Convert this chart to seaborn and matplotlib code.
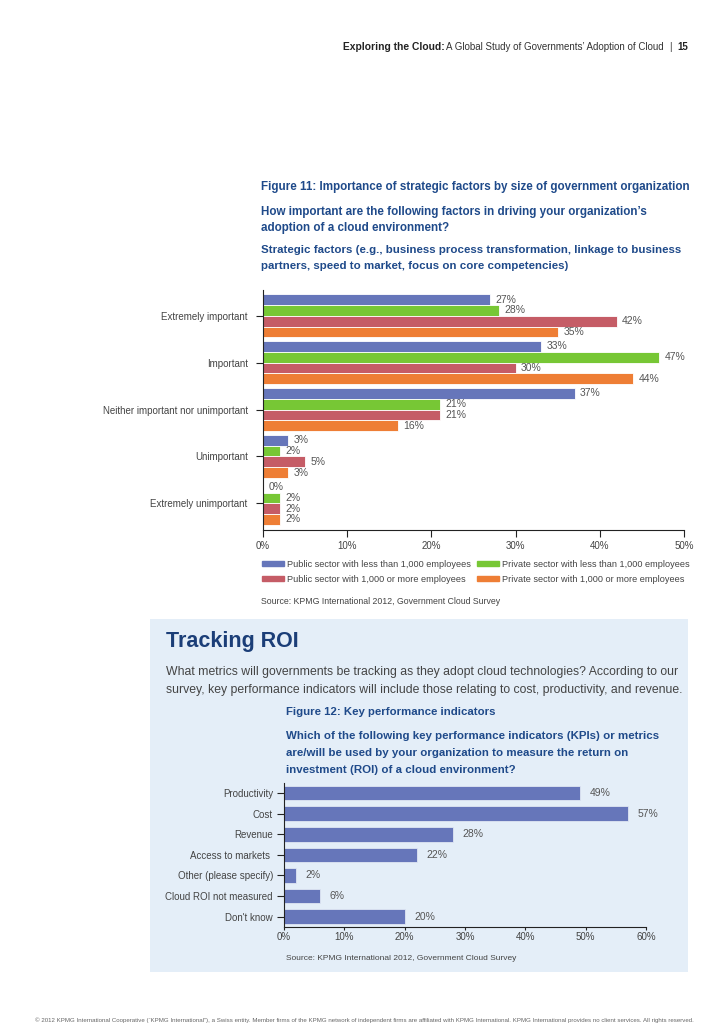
import matplotlib
matplotlib.use("Agg")
import matplotlib.pyplot as plt
from matplotlib.patches import Rectangle, Patch
import pandas as pd
import seaborn as sns

# ---- data ----
importance_levels = ["Extremely important", "Important", "Neither important nor unimportant",
                     "Unimportant", "Extremely unimportant"]
public_small = [27, 33, 37, 3, 0]
private_small = [28, 47, 21, 2, 2]
public_large = [42, 30, 21, 5, 2]
private_large = [35, 44, 16, 3, 2]
series_names = ["Public sector with less than 1,000 employees",
                "Private sector with less than 1,000 employees",
                "Public sector with 1,000 or more employees",
                "Private sector with 1,000 or more employees"]
series_colors = ["#6676ba", "#77c735", "#c55c66", "#ee7e35"]

kpi_labels = ["Productivity", "Cost", "Revenue", "Access to markets ", "Other (please specify)",
              "Cloud ROI not measured", "Don't know"]
kpi_values = [49, 57, 28, 22, 2, 6, 20]

W, H = 728, 1030
NAVY = "#1f4a8a"
GREY = "#555555"

sns.set_theme(style="white")
plt.rcParams["font.family"] = ["Liberation Sans", "DejaVu Sans"]

fig = plt.figure(figsize=(W / 100, H / 100), dpi=100)


def ftext(x, y, s, **kw):
    kw.setdefault("va", "center")
    fig.text(x / W, 1 - y / H, s, **kw)


# header
ftext(343, 47, "Exploring the Cloud:", fontsize=7.4, fontweight="bold", color="#222222")
ftext(446, 47, "A Global Study of Governments\u2019 Adoption of Cloud", fontsize=7.0, color="#333333")
ftext(670, 47, "|", fontsize=7, color="#333333", ha="center")
ftext(677, 47, "15", fontsize=7, fontweight="bold", color="#222222")

# figure 11 titles
ftext(261, 187, "Figure 11: Importance of strategic factors by size of government organization",
      fontsize=8.35, fontweight="bold", color=NAVY)
ftext(261, 212, "How important are the following factors in driving your organization\u2019s",
      fontsize=8.4, fontweight="bold", color=NAVY)
ftext(261, 228, "adoption of a cloud environment?", fontsize=8.4, fontweight="bold", color=NAVY)
ftext(261, 250, "Strategic factors (e.g., business process transformation, linkage to business",
      fontsize=8.25, fontweight="bold", color=NAVY)
ftext(261, 266, "partners, speed to market, focus on core competencies)",
      fontsize=8.25, fontweight="bold", color=NAVY)

# ---- chart 1 ----
df1 = pd.DataFrame({
    "level": importance_levels * 4,
    "value": public_small + private_small + public_large + private_large,
    "series": [n for n in series_names for _ in importance_levels],
})
ax1 = fig.add_axes([263 / W, 1 - 530 / H, 421 / W, 240 / H])
sns.barplot(data=df1, x="value", y="level", hue="series", hue_order=series_names,
            order=importance_levels, palette=series_colors, orient="h", width=0.92,
            saturation=1, edgecolor="white", linewidth=0.6, legend=False, ax=ax1)
for cont in ax1.containers:
    ax1.bar_label(cont, labels=[f"{v:g}%" for v in cont.datavalues], padding=4,
                  fontsize=7.5, color=GREY)
ax1.set_xlim(0, 50)
ax1.set_ylim(4.57, -0.55)
ax1.set_xticks([0, 10, 20, 30, 40, 50])
ax1.set_xticklabels(["0%", "10%", "20%", "30%", "40%", "50%"])
ax1.set_xlabel("")
ax1.set_ylabel("")
for side in ["top", "right"]:
    ax1.spines[side].set_visible(False)
for side in ["left", "bottom"]:
    ax1.spines[side].set_color("#222222")
    ax1.spines[side].set_linewidth(0.8)
ax1.tick_params(axis="both", length=5, width=0.8, color="#222222", labelsize=7,
                labelcolor="#444444", bottom=True, left=True)
ax1.tick_params(axis="x", pad=3)
ax1.tick_params(axis="y", pad=6)

handles = [Patch(color=c) for c in series_colors]
order = [0, 2, 1, 3]
fig.legend([handles[i] for i in order], [series_names[i] for i in order],
           loc="upper left", bbox_to_anchor=(258 / W, 1 - 556 / H), ncol=2, frameon=False,
           fontsize=6.6, handlelength=2.4, handleheight=0.5, handletextpad=0.4,
           columnspacing=0.6, labelspacing=0.65, labelcolor="#444444", borderaxespad=0)
ftext(261, 602, "Source: KPMG International 2012, Government Cloud Survey", fontsize=6.3, color="#444444")

# ---- tracking ROI box ----
fig.patches.append(Rectangle((150 / W, 1 - 972 / H), 538 / W, 353 / H,
                             transform=fig.transFigure, facecolor="#e4eef8",
                             edgecolor="none", zorder=-5))
ftext(166, 641, "Tracking ROI", fontsize=15.5, fontweight="bold", color="#1b3e78")
ftext(166, 672, "What metrics will governments be tracking as they adopt cloud technologies? According to our",
      fontsize=8.8, color="#444444")
ftext(166, 690, "survey, key performance indicators will include those relating to cost, productivity, and revenue.",
      fontsize=8.8, color="#444444")
ftext(286, 712, "Figure 12: Key performance indicators", fontsize=8.2, fontweight="bold", color=NAVY)
ftext(286, 736, "Which of the following key performance indicators (KPIs) or metrics",
      fontsize=8.25, fontweight="bold", color=NAVY)
ftext(286, 753, "are/will be used by your organization to measure the return on",
      fontsize=8.25, fontweight="bold", color=NAVY)
ftext(286, 770, "investment (ROI) of a cloud environment?", fontsize=8.25, fontweight="bold", color=NAVY)

# ---- chart 2 ----
df2 = pd.DataFrame({"kpi": kpi_labels, "value": kpi_values})
ax2 = fig.add_axes([284 / W, 1 - 927 / H, 362 / W, 144 / H])
ax2.set_facecolor("none")
sns.barplot(data=df2, x="value", y="kpi", order=kpi_labels, color="#6676ba", orient="h",
            width=0.7, edgecolor="#dfe6f3", linewidth=0.6, saturation=1, ax=ax2)
ax2.bar_label(ax2.containers[0], labels=[f"{v:g}%" for v in kpi_values], padding=7,
              fontsize=7.5, color=GREY)
ax2.set_xlim(0, 60)
ax2.set_ylim(6.5, -0.49)
ax2.set_xticks([0, 10, 20, 30, 40, 50, 60])
ax2.set_xticklabels(["0%", "10%", "20%", "30%", "40%", "50%", "60%"])
ax2.set_xlabel("")
ax2.set_ylabel("")
for side in ["top", "right"]:
    ax2.spines[side].set_visible(False)
for side in ["left", "bottom"]:
    ax2.spines[side].set_color("#222222")
    ax2.spines[side].set_linewidth(0.8)
ax2.tick_params(axis="both", width=0.8, color="#222222", labelsize=7,
                labelcolor="#444444", bottom=True, left=True)
ax2.tick_params(axis="x", length=2.5, pad=1)
ax2.tick_params(axis="y", length=5, pad=3)
ftext(286, 958, "Source: KPMG International 2012, Government Cloud Survey", fontsize=6, color="#444444")

# footer
ftext(364, 1020, "\u00a9 2012 KPMG International Cooperative (\u201cKPMG International\u201d), a Swiss entity. "
      "Member firms of the KPMG network of independent firms are affiliated with KPMG International. "
      "KPMG International provides no client services. All rights reserved.",
      fontsize=4.4, color="#666666", ha="center")

fig.savefig("out.png", dpi=100)
